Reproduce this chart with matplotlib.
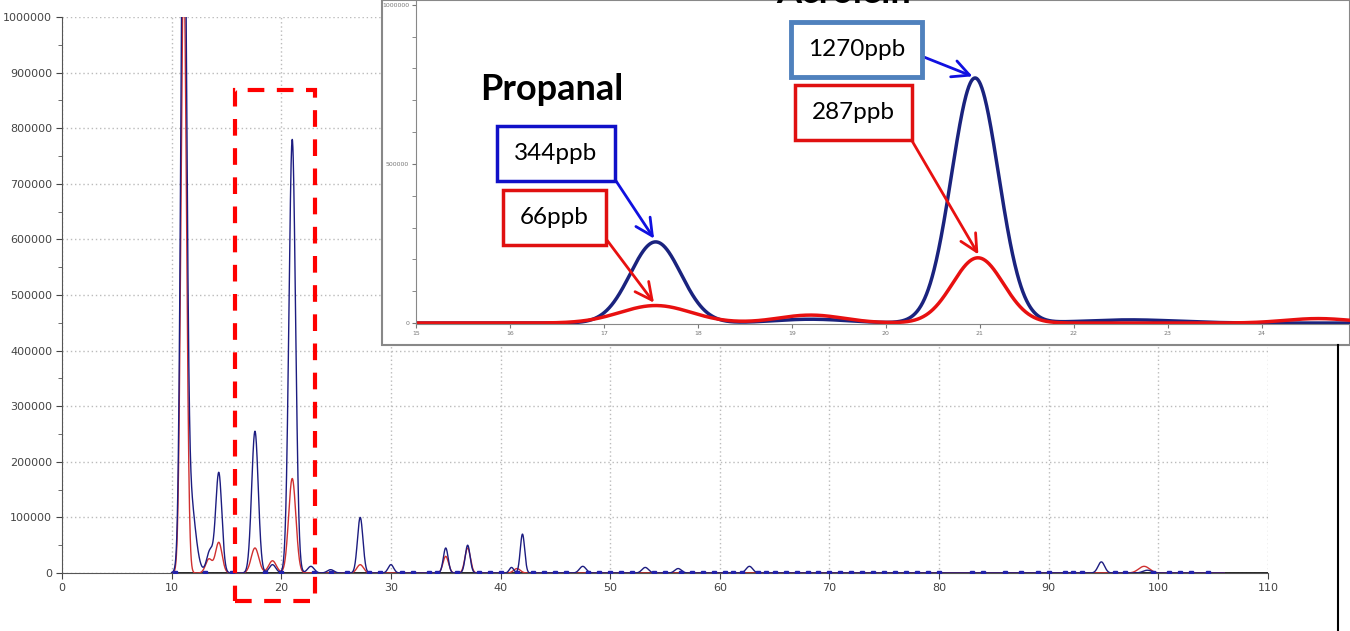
import numpy as np
import matplotlib
matplotlib.use("Agg")
import matplotlib.pyplot as plt
from matplotlib.patches import Rectangle
from matplotlib.lines import Line2D

# main chromatogram peaks: (retention time, height, width)
main_blue_peaks = [(11.1, 1.3e6, 0.25), (11.6, 150000, 0.5), (13.5, 40000, 0.3),
                   (14.3, 180000, 0.28), (17.6, 255000, 0.3), (19.2, 15000, 0.3),
                   (21.0, 780000, 0.3), (22.7, 12000, 0.3), (24.5, 6000, 0.3),
                   (27.2, 100000, 0.25), (30.0, 15000, 0.25), (35.0, 45000, 0.22),
                   (37.0, 50000, 0.22), (41.0, 10000, 0.2), (42.0, 70000, 0.2),
                   (47.5, 12000, 0.3), (53.2, 10000, 0.3), (56.2, 8000, 0.3),
                   (62.7, 12000, 0.3), (94.8, 20000, 0.3), (99.0, 5000, 0.4)]
main_red_peaks = [(11.1, 1.1e6, 0.25), (13.4, 25000, 0.3), (14.3, 55000, 0.3),
                  (17.6, 45000, 0.35), (19.2, 22000, 0.35), (21.0, 170000, 0.33),
                  (27.2, 15000, 0.3), (35.0, 30000, 0.25), (37.0, 45000, 0.25),
                  (41.5, 8000, 0.3), (98.7, 12000, 0.5)]
# integration markers along the baseline
marker_x = [10.3, 13.0, 15.5, 18.5, 20.0, 23.0, 24.5, 26.0, 28.0, 29.0, 31.0, 32.0,
            33.5, 34.2, 36.0, 38.0, 39.0, 40.0, 41.5, 43.0, 44.0, 45.0, 46.0, 48.0,
            49.0, 50.0, 51.0, 52.0, 54.0, 55.0, 56.5, 57.5, 58.5, 59.5, 60.5, 61.2,
            62.0, 63.5, 64.2, 65.0, 66.0, 67.0, 68.0, 69.0, 70.0, 71.0, 72.0, 73.0,
            74.0, 75.0, 76.0, 77.0, 78.0, 79.0, 80.0, 83.0, 84.0, 86.0, 87.5, 89.0,
            90.0, 91.5, 92.2, 93.0, 96.0, 97.0, 99.5, 101.0, 102.0, 103.0, 104.5]

# zoomed region (inset)
inset_blue_peaks = [(17.55, 255000, 0.27), (19.2, 12000, 0.4), (20.95, 770000, 0.25),
                    (22.6, 10000, 0.5)]
inset_red_peaks = [(17.55, 55000, 0.38), (19.2, 25000, 0.35), (20.98, 205000, 0.27),
                   (24.6, 14000, 0.35)]

x_ticks = list(range(0, 111, 10))
y_ticks = list(range(0, 1000001, 100000))
inset_x_ticks = list(range(15, 25))
inset_y_ticks = [0, 500000, 1000000]


def trace(t, peaks):
    y = np.zeros_like(t)
    for pos, h, w in peaks:
        y += h * np.exp(-0.5 * ((t - pos) / w) ** 2)
    return y


fig = plt.figure(figsize=(13.5, 6.31), dpi=100)

# ---- main chart
ax = fig.add_axes([62 / 1350, 1 - 573 / 631, (1268 - 62) / 1350, (573 - 17) / 631])
ax.set_zorder(0)
t = np.linspace(10, 106, 6000)
ax.plot([10, 110], [0, 0], color="black", lw=1.2, zorder=2)
ax.plot(t, trace(t, main_red_peaks), color="#d03030", lw=1.0, zorder=3)
ax.plot(t, trace(t, main_blue_peaks), color="#1c1c80", lw=1.0, zorder=4)
ax.plot(marker_x, [0] * len(marker_x), ls="none", marker="s", ms=3.5,
        color="#2222aa", zorder=5)
ax.set_xlim(0, 110)
ax.set_ylim(0, 1000000)
ax.set_xticks(x_ticks)
ax.set_yticks(y_ticks)
ax.set_yticks(np.arange(50000, 1000000, 100000), minor=True)
ax.set_xticklabels([str(v) for v in x_ticks])
ax.set_yticklabels([str(v) for v in y_ticks])
ax.grid(True, color="#bbbbbb", ls=(0, (1, 2)), lw=1.0)
for s in ["top", "right"]:
    ax.spines[s].set_visible(False)
ax.spines["left"].set_color("#555555")
ax.spines["bottom"].set_color("#555555")
ax.tick_params(labelsize=8, colors="#444444", length=4, pad=3)
ax.tick_params(which="minor", length=3, colors="#555555")
for lab in ax.get_xticklabels() + ax.get_yticklabels():
    lab.set_family(["Liberation Sans Narrow", "DejaVu Sans"])

# red dashed box around the zoomed region
ax.add_patch(Rectangle((15.8, -50000), 7.3, 919000, fill=False, ec="#ff0000",
                       lw=3, ls=(0, (4, 3)), clip_on=False, zorder=6))

# frame behind the inset
fig.add_artist(Rectangle((382 / 1350, 1 - 345 / 631), 1 - 382 / 1350, 345 / 631,
                         transform=fig.transFigure, fc="white", ec="#888888",
                         lw=1.5, zorder=1))
fig.add_artist(Line2D([1338 / 1350] * 2, [0, 1 - 345 / 631],
                      transform=fig.transFigure, color="black", lw=1.5, zorder=1))

# ---- inset
ins = fig.add_axes([416 / 1350, 1 - 324 / 631, (1350 - 416) / 1350, 324 / 631])
ins.set_zorder(2)
ins.patch.set_alpha(0)
ti = np.linspace(15, 25, 2000)
ins.plot(ti, trace(ti, inset_blue_peaks), color="#1a237e", lw=2.5)
ins.plot(ti, trace(ti, inset_red_peaks), color="#e81010", lw=2.5)
ins.set_xlim(15, 24.94)
ins.set_ylim(-3000, 1015000)
ins.set_xticks(inset_x_ticks)
ins.set_yticks(inset_y_ticks)
ins.set_yticks(np.arange(100000, 1000000, 100000), minor=True)
ins.set_xticklabels([str(v) for v in inset_x_ticks])
ins.set_yticklabels([str(v) for v in inset_y_ticks])
ins.tick_params(labelsize=4.5, colors="#777777", length=3, pad=2)
ins.tick_params(which="minor", length=3, colors="#777777")
for s in ["top", "right"]:
    ins.spines[s].set_visible(False)
ins.spines["left"].set_color("#888888")
ins.spines["bottom"].set_color("#888888")

box_font = ["Lato", "DejaVu Sans"]
ins.text(16.45, 735000, "Propanal", fontsize=26, fontweight="bold", family=box_font,
         ha="center", va="center")
# title of the acrolein peak, cut off by the top edge as in the original slide
ins.text(19.55, 1040000, "Acrolein", fontsize=26, fontweight="bold", family=box_font,
         ha="center", va="center", clip_on=False)


def label(text, xy, xytext, edge, arrow, lw=2.5, rel=(1, 0.5)):
    ins.annotate(text, xy=xy, xytext=xytext, fontsize=17.5, family=box_font,
                 ha="center", va="center",
                 bbox=dict(boxstyle="square,pad=0.7", fc="white", ec=edge, lw=lw),
                 arrowprops=dict(arrowstyle="->,head_length=0.7,head_width=0.35",
                                 color=arrow, lw=2, relpos=rel, shrinkA=0,
                                 shrinkB=2))


label("344ppb", (17.55, 258000), (16.49, 534000), "#1010c8", "#1010e0")
label("66ppb", (17.55, 57000), (16.47, 331000), "#e01010", "#e81010", rel=(1, 0.6))
label("1270ppb", (20.95, 772000), (19.69, 859000), "#4f81bd", "#1010e0", lw=3.5)
label("287ppb", (21.0, 208000), (19.66, 662000), "#e01010", "#e81010")

fig.savefig("out.png", dpi=100)
